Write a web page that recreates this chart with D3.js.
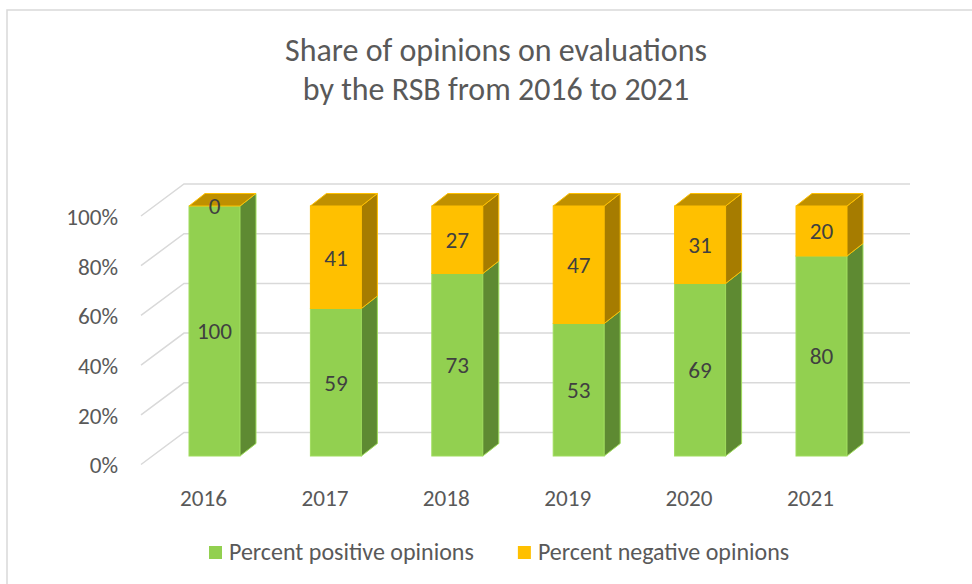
<!DOCTYPE html>
<html>
<head>
<meta charset="utf-8">
<script src="https://cdn.jsdelivr.net/npm/d3@7"></script>
<style>
  html, body { margin: 0; padding: 0; background: #ffffff; }
  svg { display: block; }
</style>
</head>
<body>
<div id="chart"></div>
<script>
// ---------- DATA ----------
const years = ["2016", "2017", "2018", "2019", "2020", "2021"];
const positive = [100, 59, 73, 53, 69, 80];
const negative = [0, 41, 27, 47, 31, 20];
const yTicks = [0, 20, 40, 60, 80, 100];
const seriesNames = ["Percent positive opinions", "Percent negative opinions"];
const titleLines = ["Share of opinions on evaluations", "by the RSB from 2016 to 2021"];

// ---------- STYLE ----------
const W = 972, H = 584;
const FONT = "Calibri, Carlito, Lato, 'Open Sans', sans-serif";
const textColor = "#595959";
const labelColor = "#404040";
const gridColor = "#d9d9d9";
const colors = {
  pos: { front: "#92d050", side: "#5e8a32", top: "#74a83c", edge: "#9fdc5c" },
  neg: { front: "#ffc000", side: "#a67c00", top: "#bf9000", edge: "#ffc000" }
};

const svg = d3.select("#chart").append("svg")
  .attr("width", W).attr("height", H)
  .attr("viewBox", `0 0 ${W} ${H}`);

function fitSize(str, targetW) {
  const t = svg.append("text").attr("font-family", FONT).attr("font-size", 100).text(str);
  const w = t.node().getComputedTextLength();
  t.remove();
  return 100 * targetW / w;
}

// chart area border
svg.append("rect")
  .attr("x", 7).attr("y", 10).attr("width", W + 20).attr("height", H + 20)
  .attr("fill", "#fff").attr("stroke", gridColor).attr("stroke-width", 1.5);

// ---------- SCALES ----------
const wallLeft = 184, wallRight = 910;
const depth = { dx: -43, dy: 32 };          // from back wall to front plane
const yWall = d3.scaleLinear().domain([0, 100]).range([432.5, 184]);
const yFront = d3.scaleLinear().domain([0, 100]).range([432.5 + depth.dy, 184 + depth.dy]);
const yBar = d3.scaleLinear().domain([0, 100]).range([456, 206]);
const xBar = d3.scalePoint().domain(years).range([214.5, 821.5]);
const xLabel = d3.scalePoint().domain(years).range([203, 810]);
const barW = 51;
const bd = { dx: 16, dy: -12.5 };            // bar depth

// ---------- GRID ----------
const grid = svg.append("g");
yTicks.forEach(v => {
  const y = yWall(v);
  grid.append("path")
    .attr("d", `M${wallLeft + depth.dx},${y + depth.dy} L${wallLeft},${y} L${wallRight},${y}`)
    .attr("fill", "none").attr("stroke", gridColor).attr("stroke-width", 1.5);
});

// ---------- Y AXIS ----------
const labelSize = fitSize("2016", 47);
const yAxis = d3.axisLeft(yFront).tickValues(yTicks).tickSize(0).tickPadding(0)
  .tickFormat(d => d + "%");
const yg = svg.append("g").attr("transform", "translate(118,0)").call(yAxis);
yg.select(".domain").remove();
yg.selectAll("text").attr("font-family", FONT).attr("font-size", labelSize)
  .attr("fill", textColor).attr("dy", "0.36em");

// ---------- X AXIS ----------
const xAxis = d3.axisBottom(xLabel).tickSize(0).tickPadding(0);
const xg = svg.append("g").attr("transform", "translate(0,489)").call(xAxis);
xg.select(".domain").remove();
xg.selectAll("text").attr("font-family", FONT).attr("font-size", labelSize)
  .attr("fill", textColor).attr("dy", "0.75em");

// ---------- BARS ----------
const stacked = years.map((yr, i) => ({
  year: yr,
  segs: [
    { key: "pos", v0: 0, v1: positive[i], value: positive[i] },
    { key: "neg", v0: positive[i], v1: positive[i] + negative[i], value: negative[i] }
  ]
}));

const bars = svg.append("g");
stacked.forEach(d => {
  const x0 = xBar(d.year) - barW / 2, x1 = x0 + barW;
  const g = bars.append("g");
  d.segs.forEach((s, si) => {
    const c = colors[s.key];
    const yb = yBar(s.v0), yt = yBar(s.v1);
    if (s.value > 0) {
      // front
      g.append("rect").attr("x", x0).attr("y", yt).attr("width", barW).attr("height", yb - yt)
        .attr("fill", c.front).attr("stroke", c.edge).attr("stroke-width", 1);
      // side
      g.append("path")
        .attr("d", `M${x1},${yt} L${x1 + bd.dx},${yt + bd.dy} L${x1 + bd.dx},${yb + bd.dy} L${x1},${yb} Z`)
        .attr("fill", c.side).attr("stroke", c.edge).attr("stroke-width", 1).attr("stroke-linejoin", "round");
    }
    if (si === d.segs.length - 1) {
      g.append("path")
        .attr("d", `M${x0},${yt} L${x0 + bd.dx},${yt + bd.dy} L${x1 + bd.dx},${yt + bd.dy} L${x1},${yt} Z`)
        .attr("fill", c.top).attr("stroke", c.edge).attr("stroke-width", 1).attr("stroke-linejoin", "round");
    }
  });
  // labels
  d.segs.forEach(s => {
    g.append("text")
      .attr("x", xBar(d.year)).attr("y", (yBar(s.v0) + yBar(s.v1)) / 2)
      .attr("dy", "0.36em").attr("text-anchor", "middle")
      .attr("font-family", FONT).attr("font-size", labelSize).attr("fill", labelColor)
      .text(s.value);
  });
});

// ---------- TITLE ----------
const titleSize = fitSize(titleLines[0], 422);
const titleYs = [61, 100];
titleLines.forEach((t, i) => {
  svg.append("text").attr("x", 496).attr("y", titleYs[i]).attr("text-anchor", "middle")
    .attr("font-family", FONT).attr("font-size", titleSize).attr("fill", textColor).text(t);
});

// ---------- LEGEND ----------
const legendSize = fitSize(seriesNames[0], 245);
const legend = svg.append("g");
let lx = 209;
const legendKeys = ["pos", "neg"];
seriesNames.forEach((name, i) => {
  legend.append("rect").attr("x", lx).attr("y", 546).attr("width", 13).attr("height", 13)
    .attr("fill", colors[legendKeys[i]].front);
  const t = legend.append("text").attr("x", lx + 20).attr("y", 560)
    .attr("font-family", FONT).attr("font-size", legendSize).attr("fill", textColor).text(name);
  lx += 20 + t.node().getComputedTextLength() + 44;
});
</script>
</body>
</html>
